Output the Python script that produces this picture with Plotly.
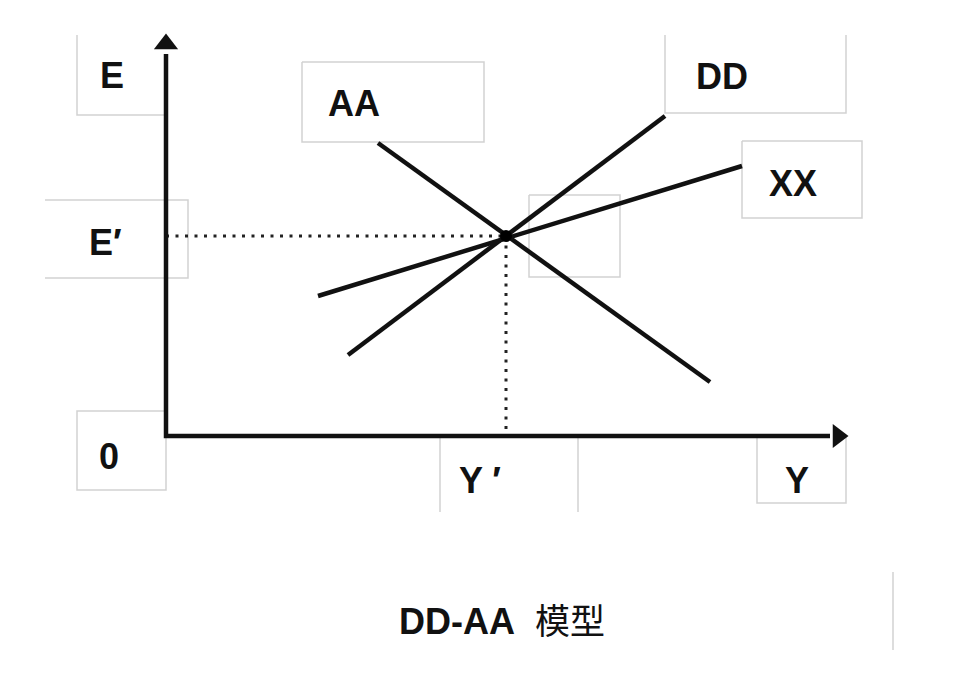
import plotly.graph_objects as go

# ---- data (model units) ----
curve_names = ["AA", "DD", "XX"]
curve_x = {"AA": [5.3, 13.6], "DD": [4.55, 12.475], "XX": [3.8, 14.4]}
curve_y = {"AA": [7.325, 1.35], "DD": [2.025, 8.0], "XX": [3.5, 6.75]}
eq_x, eq_y = 8.5, 5.0
axis_x_end, axis_y_end = 16.6, 9.55

label_text = ["E", "AA", "DD", "XX", "E′", "0", "Y ′", "Y"]
label_x = [-1.35, 4.7, 13.9, 15.675, -1.525, -1.425, 7.85, 15.775]
label_y = [9.02, 8.32, 9.0, 6.32, 4.85, -0.5, -1.12, -1.12]

title_main = "DD-AA"
title_cjk = "模型"

fig = go.Figure()

box_col = "#d2d2d2"
# label boxes (partial borders, as in the reference)
box_segments = [
    [(-2.225, 10.025), (-2.225, 8.025), (0, 8.025)],
    [(3.4, 9.35), (7.95, 9.35), (7.95, 7.35), (3.4, 7.35), (3.4, 9.35)],
    [(12.475, 10.025), (12.475, 8.075), (17.0, 8.075), (17.0, 10.025)],
    [(14.4, 7.375), (17.4, 7.375), (17.4, 5.45), (14.4, 5.45), (14.4, 7.375)],
    [(-3.025, 5.9), (0.55, 5.9), (0.55, 3.95), (-3.025, 3.95)],
    [(9.075, 6.025), (11.35, 6.025), (11.35, 3.975), (9.075, 3.975), (9.075, 6.025)],
    [(0, 0.625), (-2.225, 0.625), (-2.225, -1.35), (0, -1.35), (0, 0)],
    [(6.85, 0), (6.85, -1.9)],
    [(10.3, 0), (10.3, -1.9)],
    [(14.775, 0), (14.775, -1.675), (17.0, -1.675), (17.0, 0)],
    [(18.175, -3.4), (18.175, -5.35)],
]
for seg in box_segments:
    path = "M " + " L ".join(f"{px},{py}" for px, py in seg)
    fig.add_shape(type="path", path=path, xref="x", yref="y",
                  line=dict(color=box_col, width=1.5), layer="below")

# dotted guide lines
for gx, gy in (([0, eq_x], [eq_y, eq_y]), ([eq_x, eq_x], [eq_y, 0])):
    fig.add_trace(go.Scatter(x=gx, y=gy, mode="lines",
                             line=dict(color="#222", width=3, dash="3px,6.5px"),
                             hoverinfo="skip", showlegend=False))

# curves
for name in curve_names:
    fig.add_trace(go.Scatter(x=curve_x[name], y=curve_y[name], mode="lines",
                             line=dict(color="#111", width=4.5),
                             name=name, showlegend=False))

# equilibrium point
fig.add_trace(go.Scatter(x=[eq_x], y=[eq_y], mode="markers",
                         marker=dict(color="#000", size=12),
                         showlegend=False, hoverinfo="skip"))

# axes with arrows
fig.add_trace(go.Scatter(x=[0, 0, axis_x_end], y=[axis_y_end, 0, 0], mode="lines",
                         line=dict(color="#111", width=4.5),
                         showlegend=False, hoverinfo="skip"))
fig.add_trace(go.Scatter(x=[0], y=[axis_y_end + 0.25], mode="markers",
                         marker=dict(symbol="triangle-up", color="#111", size=21),
                         showlegend=False, hoverinfo="skip"))
fig.add_trace(go.Scatter(x=[axis_x_end + 0.2], y=[0], mode="markers",
                         marker=dict(symbol="triangle-right", color="#111", size=21),
                         showlegend=False, hoverinfo="skip"))

# labels
for t, lx, ly in zip(label_text, label_x, label_y):
    fig.add_annotation(x=lx, y=ly, text=t, showarrow=False, xref="x", yref="y",
                       font=dict(family="Liberation Sans", size=36, color="#111",
                                 weight="bold"))

fig.add_annotation(
    x=8.4, y=-4.55, xref="x", yref="y", showarrow=False,
    text=f"<b>{title_main}</b>&nbsp;&nbsp;<span style='font-family:Noto Sans CJK SC;font-weight:normal;font-size:35px'>{title_cjk}</span>",
    font=dict(family="Liberation Sans", size=36, color="#111"))

fig.update_layout(
    width=958, height=670,
    margin=dict(l=0, r=0, t=0, b=0),
    paper_bgcolor="white", plot_bgcolor="white",
    xaxis=dict(range=[-158 / 40, 800 / 40], visible=False, fixedrange=True),
    yaxis=dict(range=[-242 / 40, 428 / 40], visible=False, fixedrange=True),
    showlegend=False,
)

fig.write_html("out.html")
